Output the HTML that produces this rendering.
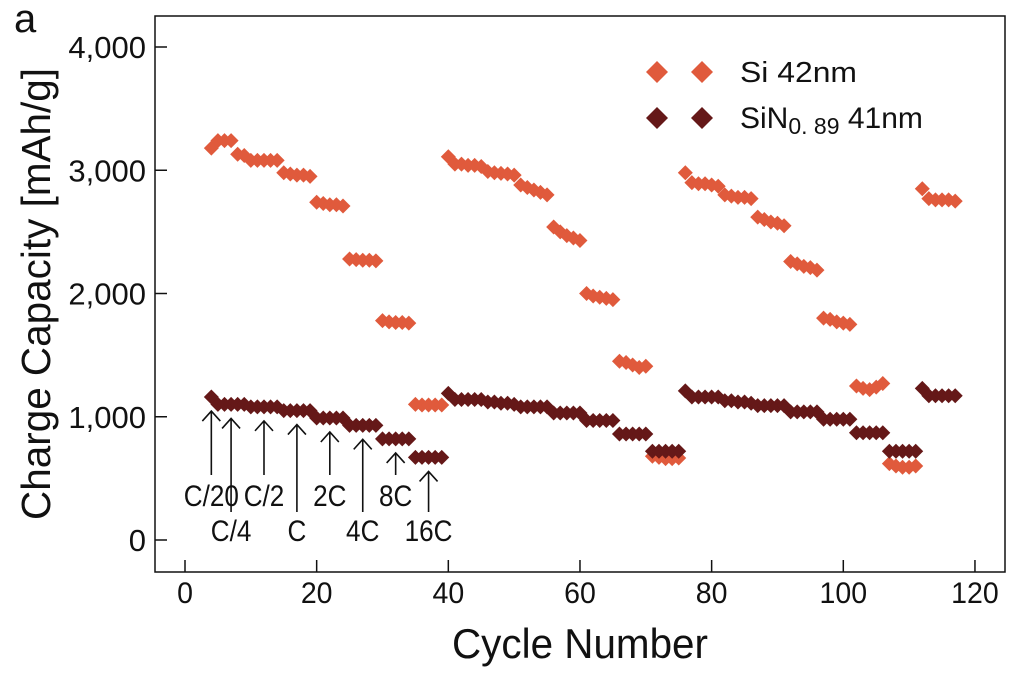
<!DOCTYPE html>
<html><head><meta charset="utf-8"><style>
body{margin:0;background:#fff;}
svg{display:block;font-family:"Liberation Sans",sans-serif;}
</style></head><body>
<svg id="chart" width="1026" height="674" viewBox="0 0 1026 674">
<text x="14" y="32" font-size="40" fill="#111">a</text>
<rect x="155" y="16" width="850" height="556" fill="none" stroke="#111" stroke-width="1.5"/>
<g id="axes"></g>
<g id="marks"></g>
<g id="arrows"></g>
<text x="452" y="658" font-size="42" textLength="256" lengthAdjust="spacingAndGlyphs" fill="#111">Cycle Number</text>
<text transform="translate(50,520) rotate(-90)" font-size="41" textLength="452" lengthAdjust="spacingAndGlyphs" fill="#111">Charge Capacity [mAh/g]</text>
<g>
<path d="M657 61 L668 72 L657 83 L646 72Z" fill="#e05a3c"/>
<path d="M702 61 L713 72 L702 83 L691 72Z" fill="#e05a3c"/>
<text x="740" y="82" font-size="29" textLength="117" lengthAdjust="spacingAndGlyphs" fill="#111">Si 42nm</text>
<path d="M657 107 L668 118 L657 129 L646 118Z" fill="#651818"/>
<path d="M702 107 L713 118 L702 129 L691 118Z" fill="#651818"/>
<text x="740" y="128" font-size="30" fill="#111">SiN<tspan font-size="23" dy="6">0. 89</tspan><tspan dy="-6"> 41nm</tspan></text>
</g>
</svg>
<script>
const xTicks=[0,20,40,60,80,100,120];
const yTicks=[0,1000,2000,3000,4000];
const yTickLabels=["0","1,000","2,000","3,000","4,000"];
const cycles=[];for(let c=4;c<=117;c++)cycles.push(c);
const siValues=[3180,3240,3240,3240,3130,3120,3080,3080,3080,3080,3080,2980,2970,2960,2960,2950,2740,2730,2720,2720,2710,2280,2275,2270,2270,2265,1780,1770,1765,1765,1760,1100,1095,1095,1095,1095,
3110,3050,3050,3040,3040,3030,2990,2980,2975,2970,2960,2880,2860,2840,2820,2800,2540,2500,2470,2450,2430,2000,1980,1970,1960,1950,1450,1440,1420,1400,1410,680,670,660,660,665,
2980,2900,2890,2890,2880,2870,2800,2790,2780,2780,2770,2620,2600,2580,2570,2550,2260,2240,2220,2210,2190,1800,1790,1770,1760,1750,1250,1230,1220,1240,1270,620,600,590,590,600,
2850,2770,2760,2760,2760,2750];
const sinValues=[1160,1100,1100,1100,1100,1100,1080,1080,1080,1080,1080,1050,1050,1050,1050,1050,990,990,990,990,990,930,930,930,930,930,820,820,820,820,820,670,670,670,670,670,
1190,1140,1140,1140,1140,1140,1120,1120,1110,1110,1100,1080,1080,1080,1080,1080,1030,1030,1030,1030,1030,970,970,970,970,970,860,860,860,860,860,720,720,720,720,720,
1210,1160,1160,1160,1160,1160,1130,1130,1120,1120,1110,1090,1090,1090,1090,1090,1040,1040,1040,1040,1040,980,980,980,980,980,870,870,870,870,870,720,720,720,720,720,
1230,1170,1170,1170,1170,1170];
const rateLabels=["C/20","C/4","C/2","C","2C","4C","8C","16C"];
const rateCycles=[4,7,12,17,22,27,32,37];
const rateLow=[0,1,0,1,0,1,0,1];

const NS="http://www.w3.org/2000/svg";
const X=v=>185+v*6.583;
const Y=v=>540-v*0.12325;
function mk(t,a,p){const e=document.createElementNS(NS,t);for(const k in a)e.setAttribute(k,a[k]);p.appendChild(e);return e;}
const axes=document.getElementById('axes');
xTicks.forEach(t=>{
 const l=mk('line',{x1:X(t),x2:X(t),y1:572,y2:560,stroke:'#111','stroke-width':1.5},axes);
 
 
 const tx=mk('text',{transform:`translate(${X(t)},603) scale(0.95,1)`,'font-size':30,'text-anchor':'middle',fill:'#111'},axes);tx.textContent=t;
 
 
});
yTicks.forEach((t,i)=>{
 const l=mk('line',{x1:155,x2:167,y1:Y(t),y2:Y(t),stroke:'#111','stroke-width':1.5},axes);
 
 
 const tx=mk('text',{x:146,y:Y(t)+11,'font-size':31,'text-anchor':'end',fill:'#111'},axes);tx.textContent=yTickLabels[i];
 
 
});
const marks=document.getElementById('marks');
function diamond(c,v,col,name){const x=X(c),y=Y(v),r=7.5;
 const p=mk('path',{d:`M${x} ${y-r}L${x+r} ${y}L${x} ${y+r}L${x-r} ${y}Z`,fill:col},marks);
 
 }
cycles.forEach((c,i)=>diamond(c,siValues[i],'#e05a3c','si-point'));
cycles.forEach((c,i)=>diamond(c,sinValues[i],'#651818','sin-point'));
const ar=document.getElementById('arrows');
rateCycles.forEach((c,i)=>{
 const idx=cycles.indexOf(c);const tip=Y(sinValues[idx])+14;const x=X(c);
 const bot=rateLow[i]?512:475;
 const g=mk('g',{},ar);
 
 
 mk('path',{d:`M${x} ${bot}L${x} ${tip}M${x-9} ${tip+10}L${x} ${tip}L${x+9} ${tip+10}`,stroke:'#111','stroke-width':1.6,fill:'none'},g);
 const t=mk('text',{transform:`translate(${x},${rateLow[i]?541:506}) scale(0.87,1)`,'font-size':30,'text-anchor':'middle',fill:'#111'},ar);t.textContent=rateLabels[i];
 
 
});
</script>
</body></html>
